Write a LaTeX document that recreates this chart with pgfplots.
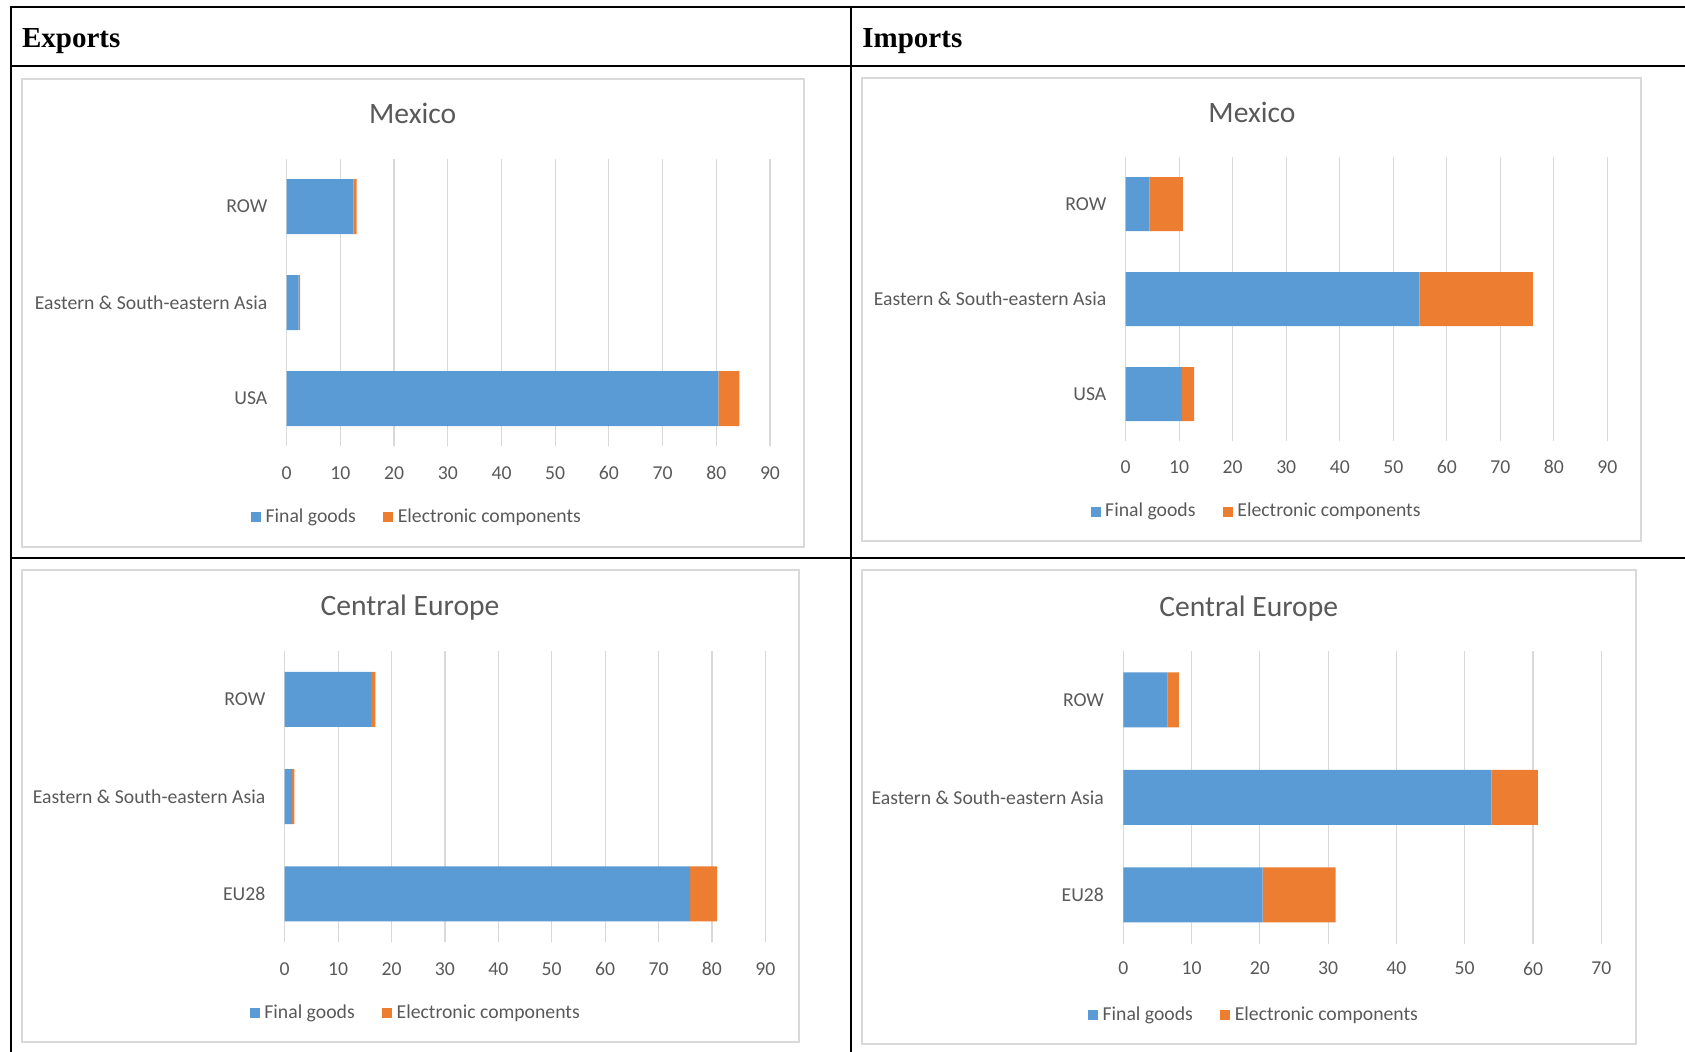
\documentclass[border=0pt]{standalone}
\usepackage{pgfplots}
\pgfplotsset{compat=1.18}
\usepackage{fontspec}
\setmainfont{Carlito}
\newfontfamily\headfont{Liberation Serif}
\definecolor{fg}{HTML}{5B9BD5}
\definecolor{ec}{HTML}{ED7D31}
\definecolor{txt}{HTML}{595959}
\definecolor{grd}{HTML}{D9D9D9}
\newcommand{\lblfont}{\fontsize{9.85}{11.8}\selectfont}
\newcommand{\ttlfont}{\fontsize{14.8}{17.8}\selectfont}
\pgfplotsset{
  panel/.style={
    xbar stacked,
    scale only axis,
    clip=false,
    ymin=0.5, ymax=3.5,
    xmin=0,
    ytick={1,2,3},
    axis line style={draw=none},
    major tick length=0pt,
    xmajorgrids,
    grid style={grd, line width=0.6pt},
    tick label style={font=\lblfont, text=txt, inner sep=0pt},
    /pgf/number format/assume math mode=true,
    yticklabel style={anchor=east, xshift=-9.5pt},
    bar width=27.5pt,
    legend columns=2,
    legend style={draw=none, fill=none, font=\lblfont, text=txt, anchor=center,
      nodes={inner sep=0pt},
      /tikz/every odd column/.append style={column sep=2.3pt},
      /tikz/every even column/.append style={column sep=13.65pt}},
    legend image code/.code={\fill[##1] (0pt,-2.5pt) rectangle (5pt,2.5pt);},
  }
}
\begin{document}
\begin{tikzpicture}
\useasboundingbox (0,0) rectangle (842.5pt,526pt);
% table lines
\draw[line width=1pt] (5.35pt,522.65pt) -- (845pt,522.65pt);
\draw[line width=1pt] (5.35pt,523.15pt) -- (5.35pt,-2pt);
\draw[line width=1pt] (5.35pt,493.15pt) -- (845pt,493.15pt);
\draw[line width=1pt] (5.35pt,247pt) -- (845pt,247pt);
\draw[line width=1pt] (425.5pt,523.15pt) -- (425.5pt,-2pt);
\node[anchor=base west, inner sep=0pt, font=\headfont\bfseries\fontsize{14.5}{17}\selectfont] at (10.85pt,502.4pt) {Exports};
\node[anchor=base west, inner sep=0pt, font=\headfont\bfseries\fontsize{14.5}{17}\selectfont] at (431pt,502.4pt) {Imports};
% chart boxes
\draw[grd, line width=1pt] (11pt,486.65pt) rectangle (402pt,252.65pt);
\draw[grd, line width=1pt] (430.85pt,486.85pt) rectangle (820.5pt,255.65pt);
\draw[grd, line width=1pt] (10.85pt,241pt) rectangle (399.25pt,5pt);
\draw[grd, line width=1pt] (430.85pt,241pt) rectangle (817.75pt,3.75pt);
% titles
\node[anchor=base, inner sep=0pt, font=\ttlfont, text=txt] at (206.35pt,464.0pt) {Mexico};
\node[anchor=base, inner sep=0pt, font=\ttlfont, text=txt] at (626pt,464.5pt) {Mexico};
\node[anchor=base, inner sep=0pt, font=\ttlfont, text=txt] at (205pt,218.0pt) {Central Europe};
\node[anchor=base, inner sep=0pt, font=\ttlfont, text=txt] at (624.35pt,217.5pt) {Central Europe};

% Exports Mexico
\begin{axis}[panel, at={(143.35pt,302.75pt)}, anchor=south west,
  width=241.65pt, height=143.9pt, xmax=90, xtick={0,10,...,90},
  yticklabels={USA, Eastern \& South-eastern Asia, ROW},
  xticklabel style={anchor=center, yshift=-13.1pt},
  legend style={at={(0.2675,-0.245)}}]
\addplot[fill=fg, draw=none] coordinates {(80.4,1) (2.2,2) (12.4,3)};
\addplot[fill=ec, draw=none] coordinates {(3.9,1) (0.3,2) (0.6,3)};
\legend{Final goods, Electronic components}
\end{axis}

% Imports Mexico
\begin{axis}[panel, at={(562.85pt,305.25pt)}, anchor=south west,
  width=240.8pt, height=142.35pt, xmax=90, xtick={0,10,...,90},
  bar width=27pt,
  yticklabels={USA, Eastern \& South-eastern Asia, ROW},
  xticklabel style={anchor=center, yshift=-12.7pt},
  legend style={at={(0.2697,-0.246)}}]
\addplot[fill=fg, draw=none] coordinates {(10.5,1) (54.9,2) (4.4,3)};
\addplot[fill=ec, draw=none] coordinates {(2.3,1) (21.2,2) (6.3,3)};
\legend{Final goods, Electronic components}
\end{axis}

% Exports Central Europe
\begin{axis}[panel, at={(142.35pt,54.8pt)}, anchor=south west,
  width=240.3pt, height=145.75pt, xmax=90, xtick={0,10,...,90},
  yticklabels={EU28, Eastern \& South-eastern Asia, ROW},
  xticklabel style={anchor=center, yshift=-13.2pt},
  legend style={at={(0.2707,-0.242)}}]
\addplot[fill=fg, draw=none] coordinates {(75.9,1) (1.4,2) (16.2,3)};
\addplot[fill=ec, draw=none] coordinates {(5.1,1) (0.4,2) (0.8,3)};
\legend{Final goods, Electronic components}
\end{axis}

% Imports Central Europe
\begin{axis}[panel, at={(561.65pt,54.125pt)}, anchor=south west,
  width=239pt, height=146.25pt, xmax=70, xtick={0,10,...,70},
  yticklabels={EU28, Eastern \& South-eastern Asia, ROW},
  xticklabel style={anchor=center, yshift=-12.4pt},
  legend style={at={(0.2713,-0.244)}}]
\addplot[fill=fg, draw=none] coordinates {(20.4,1) (53.9,2) (6.5,3)};
\addplot[fill=ec, draw=none] coordinates {(10.7,1) (6.8,2) (1.65,3)};
\legend{Final goods, Electronic components}
\end{axis}
\end{tikzpicture}
\end{document}
